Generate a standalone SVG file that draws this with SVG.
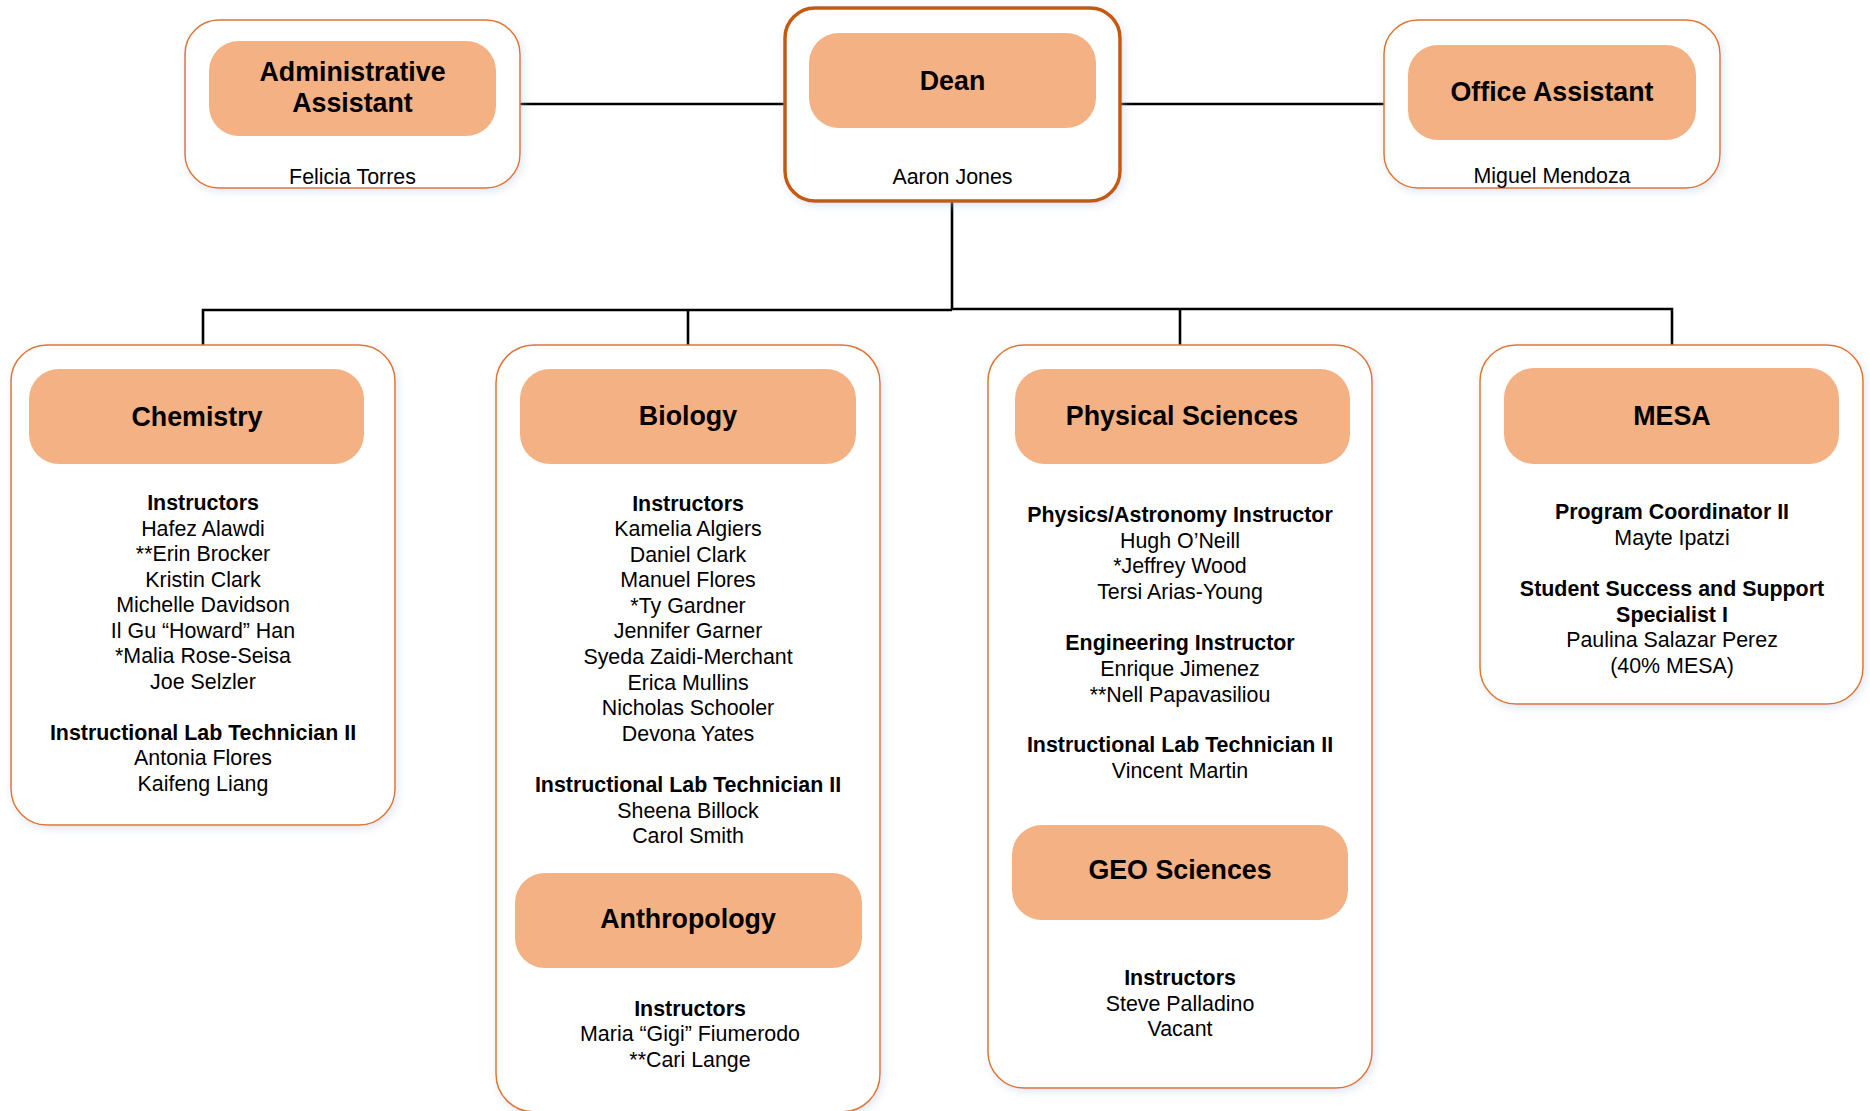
<svg xmlns="http://www.w3.org/2000/svg" width="1870" height="1111" viewBox="0 0 1870 1111">
<defs>
<filter id="sh" x="-10%" y="-10%" width="120%" height="120%">
<feDropShadow dx="2" dy="3" stdDeviation="4" flood-color="#b9c9e4" flood-opacity="0.45"/>
</filter>
<style>
.outer{fill:#ffffff;stroke:#E0762E;stroke-width:1.5;filter:url(#sh)}
.dean{fill:#ffffff;stroke:#C55A11;stroke-width:3.5;filter:url(#sh)}
.inner{fill:#F4B183}
text{font-family:"Liberation Sans",Arial,sans-serif;fill:#000;text-anchor:middle}
.h{font-size:26.8px;font-weight:bold}
.t{font-size:21.4px}
.b{font-size:21.4px;font-weight:bold}
.ln{stroke:#000;stroke-width:2.6;fill:none}
</style>
</defs>
<rect width="1870" height="1111" fill="#ffffff"/>

<g id="connectors">
<line class="ln" x1="520" y1="104" x2="785" y2="104"/>
<line class="ln" x1="1120" y1="104" x2="1384" y2="104"/>
<line class="ln" x1="952" y1="201" x2="952" y2="310"/>
<polyline class="ln" points="203,345 203,310 952,310"/>
<line class="ln" x1="688" y1="310" x2="688" y2="345"/>
<polyline class="ln" points="952,309 1672,309 1672,345"/>
<line class="ln" x1="1180" y1="309" x2="1180" y2="345"/>
</g>

<g id="admin-assistant">
<rect class="outer" x="185" y="20" width="335" height="168" rx="34"/>
<rect class="inner" x="209" y="41" width="287" height="95" rx="30"/>
<text class="h" x="352.5" y="80.5">Administrative</text>
<text class="h" x="352.5" y="111.5">Assistant</text>
<text class="t" x="352.5" y="183.5">Felicia Torres</text>
</g>

<g id="dean">
<rect class="dean" x="785" y="8" width="335" height="193" rx="30"/>
<rect class="inner" x="809" y="33" width="287" height="95" rx="30"/>
<text class="h" x="952.5" y="89.5">Dean</text>
<text class="t" x="952.5" y="183.5">Aaron Jones</text>
</g>

<g id="office-assistant">
<rect class="outer" x="1384" y="20" width="336" height="168" rx="34"/>
<rect class="inner" x="1408" y="45" width="288" height="95" rx="30"/>
<text class="h" x="1552" y="101">Office Assistant</text>
<text class="t" x="1552" y="183">Miguel Mendoza</text>
</g>

<g id="chemistry">
<rect class="outer" x="11" y="345" width="384" height="480" rx="36"/>
<rect class="inner" x="29" y="369" width="335" height="95" rx="30"/>
<text class="h" x="197" y="425.5">Chemistry</text>
<text class="b" x="203" y="510">Instructors</text>
<text class="t" x="203" y="535.5">Hafez Alawdi</text>
<text class="t" x="203" y="561">**Erin Brocker</text>
<text class="t" x="203" y="586.5">Kristin Clark</text>
<text class="t" x="203" y="612">Michelle Davidson</text>
<text class="t" x="203" y="637.5">Il Gu “Howard” Han</text>
<text class="t" x="203" y="663">*Malia Rose-Seisa</text>
<text class="t" x="203" y="688.5">Joe Selzler</text>
<text class="b" x="203" y="739.5">Instructional Lab Technician II</text>
<text class="t" x="203" y="765">Antonia Flores</text>
<text class="t" x="203" y="790.5">Kaifeng Liang</text>
</g>

<g id="biology">
<rect class="outer" x="496" y="345" width="384" height="767" rx="38"/>
<rect class="inner" x="520" y="369" width="336" height="95" rx="30"/>
<text class="h" x="688" y="425">Biology</text>
<text class="b" x="688" y="511">Instructors</text>
<text class="t" x="688" y="536">Kamelia Algiers</text>
<text class="t" x="688" y="561.5">Daniel Clark</text>
<text class="t" x="688" y="587">Manuel Flores</text>
<text class="t" x="688" y="612.5">*Ty Gardner</text>
<text class="t" x="688" y="638">Jennifer Garner</text>
<text class="t" x="688" y="663.5">Syeda Zaidi-Merchant</text>
<text class="t" x="688" y="689.5">Erica Mullins</text>
<text class="t" x="688" y="715">Nicholas Schooler</text>
<text class="t" x="688" y="740.5">Devona Yates</text>
<text class="b" x="688" y="792">Instructional Lab Technician II</text>
<text class="t" x="688" y="818">Sheena Billock</text>
<text class="t" x="688" y="843">Carol Smith</text>
<rect class="inner" x="515" y="873" width="347" height="95" rx="30"/>
<text class="h" x="688" y="928">Anthropology</text>
<text class="b" x="690" y="1015.5">Instructors</text>
<text class="t" x="690" y="1041">Maria “Gigi” Fiumerodo</text>
<text class="t" x="690" y="1067">**Cari Lange</text>
</g>

<g id="physical-sciences">
<rect class="outer" x="988" y="345" width="384" height="743" rx="36"/>
<rect class="inner" x="1015" y="369" width="335" height="95" rx="30"/>
<text class="h" x="1182" y="425">Physical Sciences</text>
<text class="b" x="1180" y="521.5">Physics/Astronomy Instructor</text>
<text class="t" x="1180" y="548">Hugh O’Neill</text>
<text class="t" x="1180" y="573">*Jeffrey Wood</text>
<text class="t" x="1180" y="599">Tersi Arias-Young</text>
<text class="b" x="1180" y="649.5">Engineering Instructor</text>
<text class="t" x="1180" y="676">Enrique Jimenez</text>
<text class="t" x="1180" y="701.5">**Nell Papavasiliou</text>
<text class="b" x="1180" y="751.5">Instructional Lab Technician II</text>
<text class="t" x="1180" y="777.5">Vincent Martin</text>
<rect class="inner" x="1012" y="825" width="336" height="95" rx="30"/>
<text class="h" x="1180" y="879">GEO Sciences</text>
<text class="b" x="1180" y="984.5">Instructors</text>
<text class="t" x="1180" y="1010.5">Steve Palladino</text>
<text class="t" x="1180" y="1036">Vacant</text>
</g>

<g id="mesa">
<rect class="outer" x="1480" y="345" width="383" height="359" rx="36"/>
<rect class="inner" x="1504" y="368" width="335" height="96" rx="30"/>
<text class="h" x="1672" y="425">MESA</text>
<text class="b" x="1672" y="518.5">Program Coordinator II</text>
<text class="t" x="1672" y="544.5">Mayte Ipatzi</text>
<text class="b" x="1672" y="596">Student Success and Support</text>
<text class="b" x="1672" y="621.5">Specialist I</text>
<text class="t" x="1672" y="647">Paulina Salazar Perez</text>
<text class="t" x="1672" y="673">(40% MESA)</text>
</g>
</svg>
